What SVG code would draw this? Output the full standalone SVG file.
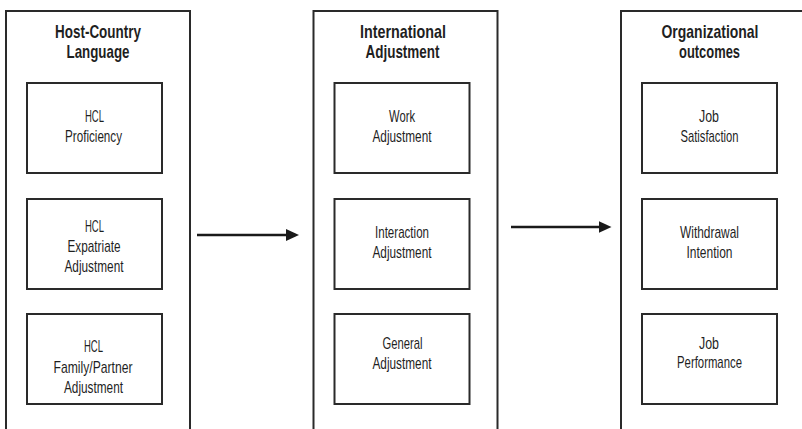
<svg xmlns="http://www.w3.org/2000/svg" width="802" height="429" viewBox="0 0 802 429">
  <defs>
    <style>
      .outer { fill: none; stroke: #2a2a2a; stroke-width: 2; }
      .inner { fill: #ffffff; stroke: #2a2a2a; stroke-width: 2; }
      .title { font-family: "Liberation Sans", Arial, sans-serif; font-weight: bold; font-size: 19px; fill: #1f1f1f; text-anchor: middle; }
      .label { font-family: "Liberation Sans", Arial, sans-serif; font-size: 17px; fill: #1f1f1f; text-anchor: middle; }
      .conn { stroke: #1a1a1a; stroke-width: 2.6; fill: none; }
    </style>
    <marker id="arrow" markerUnits="userSpaceOnUse" markerWidth="13" markerHeight="12" refX="3" refY="6" orient="auto">
      <path d="M0,0 L13,6 L0,12 z" fill="#1a1a1a"/>
    </marker>
  </defs>
  <rect width="802" height="429" fill="#ffffff"/>

  <g id="col-host-country-language">
    <rect class="outer" x="6" y="11" width="184" height="440"/>
    <text class="title" x="98" y="37.5" textLength="86" lengthAdjust="spacingAndGlyphs">Host-Country</text>
    <text class="title" x="98" y="58" textLength="63" lengthAdjust="spacingAndGlyphs">Language</text>
  </g>
  <g id="node-hcl-proficiency">
    <rect class="inner" x="27" y="83" width="135" height="90"/>
    <text class="label" x="94.5" y="122" textLength="19" lengthAdjust="spacingAndGlyphs">HCL</text>
    <text class="label" x="93.5" y="142" textLength="57" lengthAdjust="spacingAndGlyphs">Proficiency</text>
  </g>
  <g id="node-hcl-expatriate-adjustment">
    <rect class="inner" x="27" y="199" width="135" height="90"/>
    <text class="label" x="94.5" y="232" textLength="19" lengthAdjust="spacingAndGlyphs">HCL</text>
    <text class="label" x="94" y="252" textLength="53" lengthAdjust="spacingAndGlyphs">Expatriate</text>
    <text class="label" x="94" y="272" textLength="59" lengthAdjust="spacingAndGlyphs">Adjustment</text>
  </g>
  <g id="node-hcl-family-partner-adjustment">
    <rect class="inner" x="27" y="314" width="135" height="90"/>
    <text class="label" x="93.5" y="352" textLength="19" lengthAdjust="spacingAndGlyphs">HCL</text>
    <text class="label" x="93" y="372.5" textLength="79" lengthAdjust="spacingAndGlyphs">Family/Partner</text>
    <text class="label" x="93.5" y="393" textLength="59" lengthAdjust="spacingAndGlyphs">Adjustment</text>
  </g>

  <g id="col-international-adjustment">
    <rect class="outer" x="313.5" y="11" width="184" height="440"/>
    <text class="title" x="403" y="37.5" textLength="86" lengthAdjust="spacingAndGlyphs">International</text>
    <text class="title" x="402.5" y="58" textLength="74" lengthAdjust="spacingAndGlyphs">Adjustment</text>
  </g>
  <g id="node-work-adjustment">
    <rect class="inner" x="334.5" y="83" width="135" height="90"/>
    <text class="label" x="402" y="122" textLength="26" lengthAdjust="spacingAndGlyphs">Work</text>
    <text class="label" x="402" y="142" textLength="59" lengthAdjust="spacingAndGlyphs">Adjustment</text>
  </g>
  <g id="node-interaction-adjustment">
    <rect class="inner" x="334.5" y="199" width="135" height="90"/>
    <text class="label" x="402" y="237.5" textLength="54" lengthAdjust="spacingAndGlyphs">Interaction</text>
    <text class="label" x="402" y="257.5" textLength="59" lengthAdjust="spacingAndGlyphs">Adjustment</text>
  </g>
  <g id="node-general-adjustment">
    <rect class="inner" x="334.5" y="314" width="135" height="90"/>
    <text class="label" x="402.5" y="348.5" textLength="40" lengthAdjust="spacingAndGlyphs">General</text>
    <text class="label" x="402" y="368.5" textLength="59" lengthAdjust="spacingAndGlyphs">Adjustment</text>
  </g>

  <g id="col-organizational-outcomes">
    <rect class="outer" x="621" y="11" width="184" height="440"/>
    <text class="title" x="710" y="37.5" textLength="97" lengthAdjust="spacingAndGlyphs">Organizational</text>
    <text class="title" x="709.5" y="58" textLength="61" lengthAdjust="spacingAndGlyphs">outcomes</text>
  </g>
  <g id="node-job-satisfaction">
    <rect class="inner" x="642" y="83" width="135" height="90"/>
    <text class="label" x="709" y="122" textLength="20" lengthAdjust="spacingAndGlyphs">Job</text>
    <text class="label" x="709.5" y="142" textLength="58" lengthAdjust="spacingAndGlyphs">Satisfaction</text>
  </g>
  <g id="node-withdrawal-intention">
    <rect class="inner" x="642" y="199" width="135" height="90"/>
    <text class="label" x="709.5" y="237.5" textLength="59" lengthAdjust="spacingAndGlyphs">Withdrawal</text>
    <text class="label" x="709.5" y="257.5" textLength="46" lengthAdjust="spacingAndGlyphs">Intention</text>
  </g>
  <g id="node-job-performance">
    <rect class="inner" x="642" y="314" width="135" height="90"/>
    <text class="label" x="709" y="348.5" textLength="20" lengthAdjust="spacingAndGlyphs">Job</text>
    <text class="label" x="709.5" y="368" textLength="65" lengthAdjust="spacingAndGlyphs">Performance</text>
  </g>

  <g id="connectors">
    <line class="conn" x1="197" y1="235" x2="289" y2="235" marker-end="url(#arrow)"/>
    <line class="conn" x1="511" y1="227" x2="601.5" y2="227" marker-end="url(#arrow)"/>
  </g>
</svg>
